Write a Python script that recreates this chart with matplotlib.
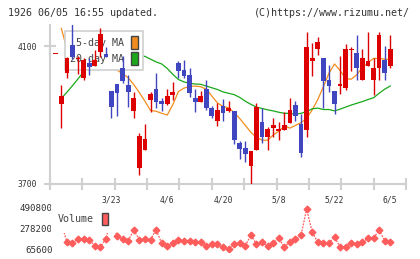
import numpy as np
import matplotlib.pyplot as plt
from matplotlib.patches import Patch

# trading day index (-1 is the partly visible day before 3/9)
idx = list(range(-1, 60))
opens = [4076, 3932, 4023, 4103, 4061, 4006, 4052, 4043, 4084, 4077,
         3971, 3990, 4035, 3987, 3913, 3747, 3799, 3944, 3975, 3941,
         3932, 3958, 4052, 4031, 4016, 3949, 3939, 3975, 3919, 3884,
         3926, 3912, 3912, 3820, 3805, 3753, 3799, 3880, 3837, 3863,
         3854, 3857, 3878, 3929, 3874, 3857, 4058, 4090, 4066, 4002,
         3970, 3985, 3979, 4088, 4081, 4002, 4043, 4002, 4035, 4060, 4043]
highs = [4076, 3987, 4068, 4165, 4070, 4064, 4064, 4088, 4151, 4098,
         3971, 3990, 4071, 4016, 3968, 3847, 3874, 3968, 4021, 3950,
         3975, 3995, 4057, 4060, 4035, 3975, 3970, 4002, 3926, 3934,
         3946, 3941, 3912, 3825, 3825, 3796, 3936, 3919, 3866, 3892,
         3879, 3908, 3950, 3941, 3902, 4142, 4108, 4127, 4066, 4045,
         3970, 4071, 4106, 4098, 4132, 4091, 4142, 4064, 4142, 4101, 4132]
lows = [4076, 3863, 4008, 4062, 4020, 4002, 4016, 4043, 4069, 4069,
        3890, 3898, 3992, 3924, 3890, 3726, 3799, 3910, 3919, 3912,
        3929, 3944, 4006, 4006, 3953, 3910, 3939, 3915, 3890, 3869,
        3884, 3908, 3815, 3772, 3763, 3697, 3799, 3818, 3799, 3837,
        3828, 3857, 3878, 3883, 3779, 3837, 4014, 4074, 3921, 3966,
        3903, 3960, 3972, 4029, 4002, 4002, 4043, 3958, 4002, 4002, 4035]
closes = [4076, 3956, 4066, 4069, 4064, 4060, 4040, 4060, 4135, 4069,
          3924, 3965, 4000, 3968, 3950, 3840, 3831, 3961, 3939, 3932,
          3955, 3967, 4029, 4013, 3965, 3939, 3955, 3919, 3898, 3915,
          3905, 3921, 3828, 3801, 3787, 3796, 3922, 3837, 3860, 3871,
          3860, 3871, 3915, 3898, 3789, 4098, 4066, 4113, 4000, 3985,
          3932, 3990, 4091, 4091, 4035, 4065, 4057, 4037, 4132, 4023, 4091]
ma5 = [np.nan, 4151, 4092, 4080, 4075, 4070, 4060, 4055, 4070, 4075, 4050,
       4030, 4020, 4008, 3988, 3965, 3940, 3913, 3911, 3905, 3900,
       3930, 3968, 3978, 3983, 3984, 3982, 3975, 3955, 3935, 3925,
       3921, 3907, 3890, 3870, 3850, 3835, 3827, 3827, 3842, 3853,
       3868, 3862, 3870, 3878, 3890, 3915, 3945, 3982, 4021, 4048,
       4029, 4005, 4004, 4017, 4038, 4052, 4064, 4064, 4062, 4061]
ma20 = [np.nan, 3948, 3966, 3985, 4005, 4025, 4040, 4052, 4062, 4068, 4072,
        4075, 4076, 4076, 4075, 4073, 4070, 4062, 4054, 4048, 4035,
        4018, 4003, 3996, 3992, 3990, 3989, 3984, 3979, 3974, 3967,
        3963, 3959, 3951, 3940, 3931, 3923, 3919, 3915, 3912, 3908,
        3905, 3905, 3902, 3905, 3910, 3918, 3920, 3916, 3916, 3912,
        3917, 3923, 3929, 3934, 3939, 3945, 3950, 3963, 3975, 3984]
volume = [np.nan, 330000, 141000, 125000, 172000, 165000, 160000, 100000, 83000,
          172000, 383000, 198000, 172000, 152000, 263000, 162000, 167000,
          162000, 266000, 125000, 95000, 125000, 162000, 153000, 150000,
          143000, 141300, 96700, 117500, 117500, 83000, 62500, 117500,
          124700, 96700, 210800, 117500, 135000, 96700, 124700, 176600,
          83000, 141300, 166200, 210800, 480400, 238800, 135000, 124700,
          124700, 187000, 89400, 89400, 124700, 117500, 135000, 176600,
          176600, 262700, 151700, 135000]
tick_idx = [9, 19, 29, 39, 49, 59]
tick_labels = ['3/23', '4/6', '4/20', '5/8', '5/22', '6/5']
price_ticks = [3700, 4100]
vol_ticks = [65600, 278200, 490800]

RED, BLUE = '#dd0000', '#4046c0'
ORANGE, GREEN = '#f28c1e', '#1aa81a'
VCOL = '#ff5c5c'
GRAY = '#d0d0d0'
TXT = '#333333'
MONO = 'DejaVu Sans Mono'
plt.rcParams['font.family'] = MONO

W, H = 420, 259
fig = plt.figure(figsize=(W / 100, H / 100), dpi=100)


def px_box(l, t, r, b):
    return [l / W, 1 - b / H, (r - l) / W, (b - t) / H]


ax = fig.add_axes(px_box(50, 25, 406, 184))
vax = fig.add_axes(px_box(50, 205, 406, 252))
xlim = (-2.03, 61.82)

# candles
o = np.array(opens, float)
c = np.array(closes, float)
cols = np.where(c >= o, RED, BLUE)
body = np.maximum(np.abs(c - o), 2.5)
ax.vlines(idx, lows, highs, colors=cols, lw=1, zorder=3)
ax.bar(idx, body, bottom=np.minimum(o, c), width=0.85, color=cols, lw=0, zorder=4)
ax.plot(idx, ma5, color=ORANGE, lw=0.9, zorder=2)
ax.plot(idx, ma20, color=GREEN, lw=0.9, zorder=2)

ax.set_xlim(xlim)
ax.set_ylim(3700, 4161)
for s in ['top', 'right']:
    ax.spines[s].set_visible(False)
for s in ['left', 'bottom']:
    ax.spines[s].set_color(GRAY)
    ax.spines[s].set_linewidth(1.5)
ax.set_yticks(price_ticks)
ax.set_yticklabels([str(v) for v in price_ticks])
ax.set_xticks(tick_idx)
ax.set_xticklabels(tick_labels)
ax.set_xticks(np.linspace(xlim[0], xlim[1], 12), minor=True)
ax.tick_params(axis='y', direction='inout', length=8, width=1.5, color=GRAY,
               labelsize=5.8, labelcolor=TXT, pad=5)
ax.tick_params(axis='x', which='major', length=0, labelsize=5.8,
               labelcolor=TXT, pad=8)
ax.tick_params(axis='x', which='minor', direction='inout', length=8,
               width=1.5, color=GRAY)

leg = ax.legend([Patch(fc=ORANGE, ec='#444444', lw=1), Patch(fc=GREEN, ec='#444444', lw=1)],
                ['5-day MA', '20-day MA'], loc='upper left',
                bbox_to_anchor=(65 / W, 1 - 31 / H), bbox_transform=fig.transFigure,
                borderaxespad=0, markerfirst=False, handlelength=0.7,
                handleheight=1.6, handletextpad=0.7, labelspacing=0.3,
                borderpad=0.5, fancybox=False, framealpha=1,
                edgecolor=GRAY, facecolor='white', prop={'size': 7.2})
leg.get_frame().set_linewidth(1.2)
for t in leg.get_texts():
    t.set_color('#444444')
leg.set_zorder(2.5)

# volume
vax.plot(idx, volume, color=VCOL, lw=0.9, ls=(0, (1.5, 1)), marker='D', ms=3.4,
         mfc=VCOL, mec=VCOL, zorder=2)
vax.set_xlim(xlim)
vax.set_ylim(34500, 521900)
for s in vax.spines.values():
    s.set_visible(False)
vax.set_xticks([])
vax.set_yticks(vol_ticks)
vax.set_yticklabels([str(v) for v in vol_ticks])
vax.tick_params(axis='y', length=0, labelsize=6.6, labelcolor=TXT, pad=-2)
vleg = vax.legend([Patch(fc=VCOL, ec='#444444', lw=1)], ['Volume'], loc='upper left',
                  bbox_to_anchor=(50.5 / W, 1 - 205.5 / H), bbox_transform=fig.transFigure,
                  borderaxespad=0, markerfirst=False, handlelength=0.6,
                  handleheight=1.5, handletextpad=0.8, borderpad=0.75,
                  fancybox=False, framealpha=1, edgecolor='none',
                  facecolor='white', prop={'size': 7.2})
for t in vleg.get_texts():
    t.set_color('#444444')
vleg.set_zorder(5)

fig.text(8 / W, 1 - 12.5 / H, '1926 06/05 16:55 updated.', fontsize=7.2,
         color=TXT, va='center', ha='left')
fig.text(410 / W, 1 - 12.5 / H, '(C)https://www.rizumu.net/', fontsize=7.2,
         color=TXT, va='center', ha='right')

fig.savefig('out.png', dpi=100)
